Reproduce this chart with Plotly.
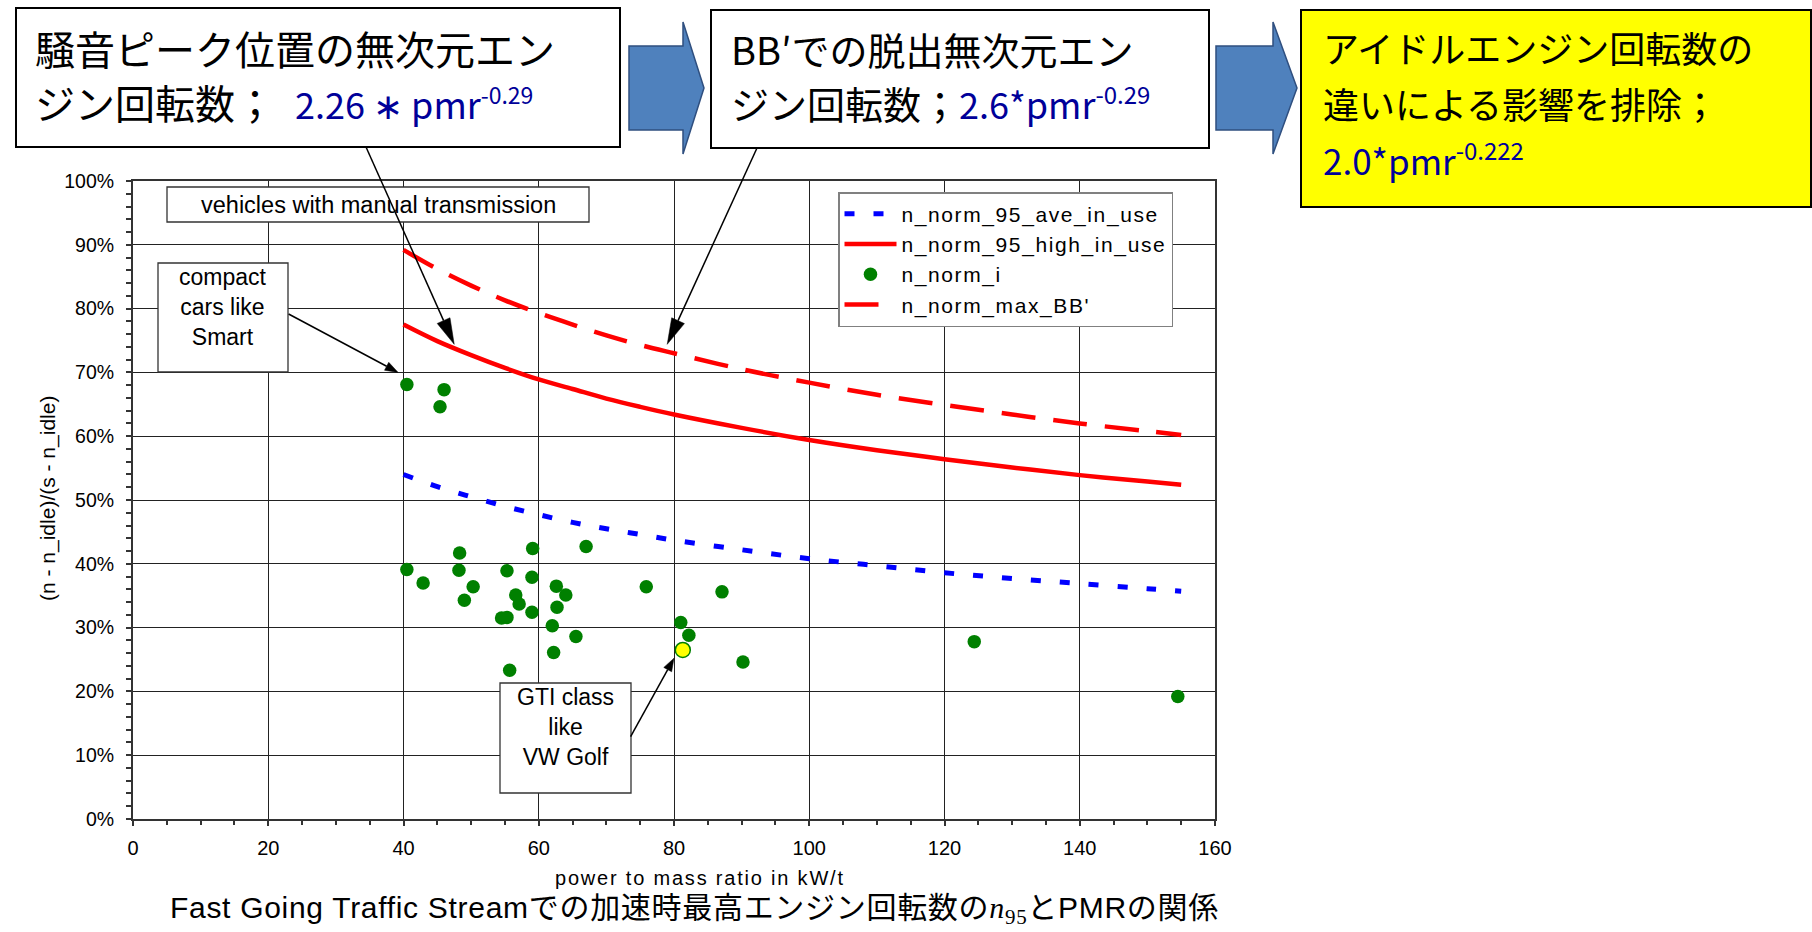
import math
import plotly.graph_objects as go

W, H = 1812, 932

# power-to-mass ratio grid for the fitted curves (kW/t)
pmr_curve = [40, 45, 50, 55, 60, 65, 70, 75, 80, 90, 100, 110, 120, 130, 140, 150, 155]
# normalised engine speed curves
n95_ave = [0.540, 0.521, 0.505, 0.490, 0.477, 0.465, 0.455, 0.446, 0.437, 0.422, 0.408,
           0.397, 0.386, 0.377, 0.369, 0.361, 0.357]
n95_high = [0.775, 0.749, 0.727, 0.707, 0.689, 0.674, 0.659, 0.646, 0.634, 0.613, 0.594,
            0.578, 0.564, 0.551, 0.539, 0.529, 0.524]
n_max_bb = [0.892, 0.862, 0.836, 0.813, 0.793, 0.775, 0.758, 0.743, 0.730, 0.705, 0.684,
            0.665, 0.649, 0.634, 0.620, 0.608, 0.602]

# individual vehicles with manual transmission
pmr_vehicle = [40.5, 42.9, 48.3, 48.2, 50.3, 49.0, 55.3, 59.1, 59.0, 56.6, 57.1, 59.0,
               54.5, 55.3, 55.7, 62.6, 64.0, 62.7, 62.0, 62.2, 65.5, 67.0, 75.9, 81.0,
               82.2, 87.1, 90.2, 124.4, 154.5, 40.5, 46.0, 45.4]
n_norm_vehicle = [0.391, 0.370, 0.417, 0.390, 0.364, 0.343, 0.389, 0.424, 0.379, 0.351,
                  0.337, 0.324, 0.315, 0.316, 0.233, 0.365, 0.351, 0.332, 0.303, 0.261,
                  0.286, 0.427, 0.364, 0.308, 0.288, 0.356, 0.246, 0.278, 0.192, 0.681,
                  0.673, 0.646]
# GTI-class vehicle (VW Golf)
pmr_gti = [81.3]
n_norm_gti = [0.265]

x_ticks = [0, 20, 40, 60, 80, 100, 120, 140, 160]
y_ticks = [0, 0.1, 0.2, 0.3, 0.4, 0.5, 0.6, 0.7, 0.8, 0.9, 1.0]

LATIN = "Liberation Sans, Arial, sans-serif"
CJK = "Noto Sans CJK JP, sans-serif"
NAVY = "#000099"

# plot area in page pixels
X0, X1, Y_TOP, Y_BOT = 133, 1215, 181, 819
X_RANGE, Y_RANGE = (0, 160), (0, 1)


def px(x):
    return x / W


def py(y):
    return 1 - y / H


def data_to_page(x, y):
    fx = (x - X_RANGE[0]) / (X_RANGE[1] - X_RANGE[0])
    fy = (y - Y_RANGE[0]) / (Y_RANGE[1] - Y_RANGE[0])
    return X0 + fx * (X1 - X0), Y_BOT - fy * (Y_BOT - Y_TOP)


def spaced(s, sp):
    return f"<span style='letter-spacing:{sp}px'>{s}</span>"


def sized(s, size):
    return f"<span style='font-size:{size}px'>{s}</span>"


fig = go.Figure()
fig.add_trace(go.Scatter(
    x=pmr_curve, y=n95_ave, mode="lines", name=spaced("n_norm_95_ave_in_use", 1.6),
    line=dict(color="#0000FF", width=5, dash="10px,19px", shape="spline")))
fig.add_trace(go.Scatter(
    x=pmr_curve, y=n95_high, mode="lines", name=spaced("n_norm_95_high_in_use", 1.6),
    line=dict(color="#FF0000", width=4.5, shape="spline")))
fig.add_trace(go.Scatter(
    x=pmr_vehicle, y=n_norm_vehicle, mode="markers", name=spaced("n_norm_i", 1.6),
    marker=dict(color="#008000", size=13.5, line=dict(width=0))))
fig.add_trace(go.Scatter(
    x=pmr_curve, y=n_max_bb, mode="lines", name=spaced("n_norm_max_BB'", 1.6),
    line=dict(color="#FF0000", width=4.5, dash="34px,18px", shape="spline")))
fig.add_trace(go.Scatter(
    x=pmr_gti, y=n_norm_gti, mode="markers", showlegend=False,
    marker=dict(color="#FFFF00", size=15, line=dict(color="#008000", width=1.5))))

axis_common = dict(
    showgrid=True, gridcolor="#222222", gridwidth=1,
    showline=True, linecolor="#333333", linewidth=2, mirror=True,
    ticks="outside", ticklen=5, tickwidth=1.5, tickcolor="#333333",
    zeroline=False, fixedrange=True, automargin=False,
)
inner_ticks = dict(ticks="inside", ticklen=5, tickwidth=1.5, tickcolor="#333333",
                   showticklabels=False, showgrid=False, showline=False,
                   zeroline=False, fixedrange=True, automargin=False)

fig.update_layout(
    width=W, height=H, autosize=False,
    margin=dict(l=0, r=0, t=0, b=0, pad=0),
    paper_bgcolor="white", plot_bgcolor="white",
    font=dict(family=LATIN, color="black"),
    xaxis=dict(axis_common, domain=[px(X0), px(X1)], range=list(X_RANGE),
               tickvals=x_ticks, ticklabelstandoff=5,
               tickfont=dict(family=LATIN, size=20, color="black"),
               minor=dict(dtick=5, tick0=0, ticks="outside", ticklen=4,
                          tickcolor="#333333", showgrid=False)),
    yaxis=dict(axis_common, domain=[py(Y_BOT), py(Y_TOP)], range=list(Y_RANGE),
               tickvals=y_ticks, tickformat=".0%", ticklabelstandoff=8,
               tickfont=dict(family=LATIN, size=19.5, color="black"),
               minor=dict(dtick=0.02, tick0=0, ticks="outside", ticklen=5,
                          tickcolor="#333333", showgrid=False)),
    # companion axes drawing the inner half of the crossing tick marks
    xaxis2=dict(inner_ticks, overlaying="x", anchor="y", domain=[px(X0), px(X1)],
                range=list(X_RANGE), tickvals=x_ticks,
                minor=dict(dtick=5, tick0=0, ticks="inside", ticklen=5,
                           tickcolor="#333333", showgrid=False)),
    yaxis2=dict(inner_ticks, overlaying="y", anchor="x", domain=[py(Y_BOT), py(Y_TOP)],
                range=list(Y_RANGE), tickvals=y_ticks,
                minor=dict(dtick=0.02, tick0=0, ticks="inside", ticklen=5,
                           tickcolor="#333333", showgrid=False)),
    legend=dict(x=px(838), y=py(192), xanchor="left", yanchor="top",
                bgcolor="white", bordercolor="#808080", borderwidth=1.5,
                font=dict(family=LATIN, size=21, color="black"),
                itemwidth=52, tracegroupgap=0, traceorder="normal"),
    showlegend=True,
)


def rect(x0, y0, x1, y1, fill="white", width=1.5, color="black"):
    return dict(type="rect", xref="paper", yref="paper",
                x0=px(x0), x1=px(x1), y0=py(y1), y1=py(y0),
                line=dict(color=color, width=width), fillcolor=fill, layer="above")


def poly(points, fill, line_color, line_width):
    d = "M " + " L ".join(f"{px(a):.5f},{py(b):.5f}" for a, b in points) + " Z"
    return dict(type="path", xref="paper", yref="paper", path=d, fillcolor=fill,
                line=dict(color=line_color, width=line_width), layer="above")


def block_arrow(x0, x1, xt, yb0, yb1, yh0, yh1, yt):
    pts = [(x0, yb0), (x1, yb0), (x1, yh0), (xt, yt), (x1, yh1), (x1, yb1), (x0, yb1)]
    return poly(pts, "#4F81BD", "#2F4F7F", 1.5)


def pointer(tail, head_data, head_len, half_w, width=1.5):
    """Callout line from a page-pixel tail to a data point, with a filled head."""
    tx, ty = tail
    hx, hy = data_to_page(*head_data)
    L = math.hypot(hx - tx, hy - ty)
    ux, uy = (hx - tx) / L, (hy - ty) / L
    bx, by = hx - ux * head_len, hy - uy * head_len
    line = dict(type="line", xref="paper", yref="paper",
                x0=px(tx), y0=py(ty), x1=px(bx), y1=py(by),
                line=dict(color="black", width=width), layer="above")
    head = poly([(hx, hy), (bx - uy * half_w, by + ux * half_w),
                 (bx + uy * half_w, by - ux * half_w)], "black", "black", 0.5)
    return [line, head]


shapes = [
    # in-chart note boxes
    rect(167, 187, 589, 222, width=1.3, color="#333333"),
    rect(158, 263, 288, 372, width=1.3, color="#333333"),
    rect(500, 683, 631, 793, width=1.3, color="#333333"),
    # explanatory boxes above the chart
    rect(16, 8, 620, 147, width=2),
    rect(711, 10, 1209, 148, width=2),
    rect(1301, 10, 1811, 207, fill="#FFFF00", width=2),
    block_arrow(629, 683, 704, 46, 130, 22, 154, 88),
    block_arrow(1216, 1273, 1297, 46, 130, 22, 154, 88),
]
shapes += pointer((366, 147), (47.5, 0.744), 26, 7)
shapes += pointer((757, 148), (79.0, 0.744), 26, 7)
shapes += pointer((288.6, 314), (39.2, 0.700), 13, 4.5)
shapes += pointer((630.6, 736.7), (80.0, 0.252), 13, 4.5)
fig.update_layout(shapes=shapes)


def text(x, y, s, size, family=LATIN, xanchor="left", color="black", angle=0,
         align="center"):
    return dict(xref="paper", yref="paper", x=px(x), y=py(y), text=s, showarrow=False,
                xanchor=xanchor, yanchor="middle", textangle=angle, align=align,
                font=dict(family=family, size=size, color=color))


def formula(main, power, size, sup_size):
    return (f"<span style='color:{NAVY};font-size:{size}px'>{main}"
            f"<sup><span style='font-size:{sup_size}px'>{power}</span></sup></span>")


box1 = (sized("騒音ピーク位置の無次元エン", 40) + "<br>"
        + sized("ジン回転数；\u2002", 40) + formula("2.26 ∗ pmr", "-0.29", 36, 23))
box2 = (sized("BB′での脱出無次元エン", 38) + "<br>"
        + sized("ジン回転数；", 38) + formula("2.6*pmr", "-0.29", 36, 24))
box3 = (sized("アイドルエンジン回転数の", 36) + "<br>"
        + sized("違いによる影響を排除；", 36) + "<br>"
        + formula("2.0*pmr", "-0.222", 35, 24))

caption = spaced(
    "Fast Going Traffic Streamでの加速時最高エンジン回転数の"
    "<span style='font-family:Liberation Serif, serif'><i>n</i><sub>95</sub></span>"
    "とPMRの関係", 0.7)

annotations = [
    text(378, 205, "vehicles with manual transmission", 23.5, xanchor="center"),
    text(223, 307, "compact<br>cars like<br>Smart", 23, xanchor="center"),
    text(565, 727, "GTI class<br>like<br>VW Golf", 23, xanchor="center"),
    text(48, 499, "(n - n_idle)/(s - n_idle)", 21, xanchor="center", angle=-90),
    text(700, 878, spaced("power to mass ratio in kW/t", 1.8), 20, xanchor="center"),
    text(694, 910, caption, 30, family=LATIN + ", " + CJK, xanchor="center"),
    text(33, 75, box1, 41.5, family=CJK, align="left"),
    text(729, 76, box2, 41.5, family=CJK, align="left"),
    text(1321, 103, box3, 43, family=CJK, align="left"),
]
fig.update_layout(annotations=annotations)

fig.write_html("out.html")
